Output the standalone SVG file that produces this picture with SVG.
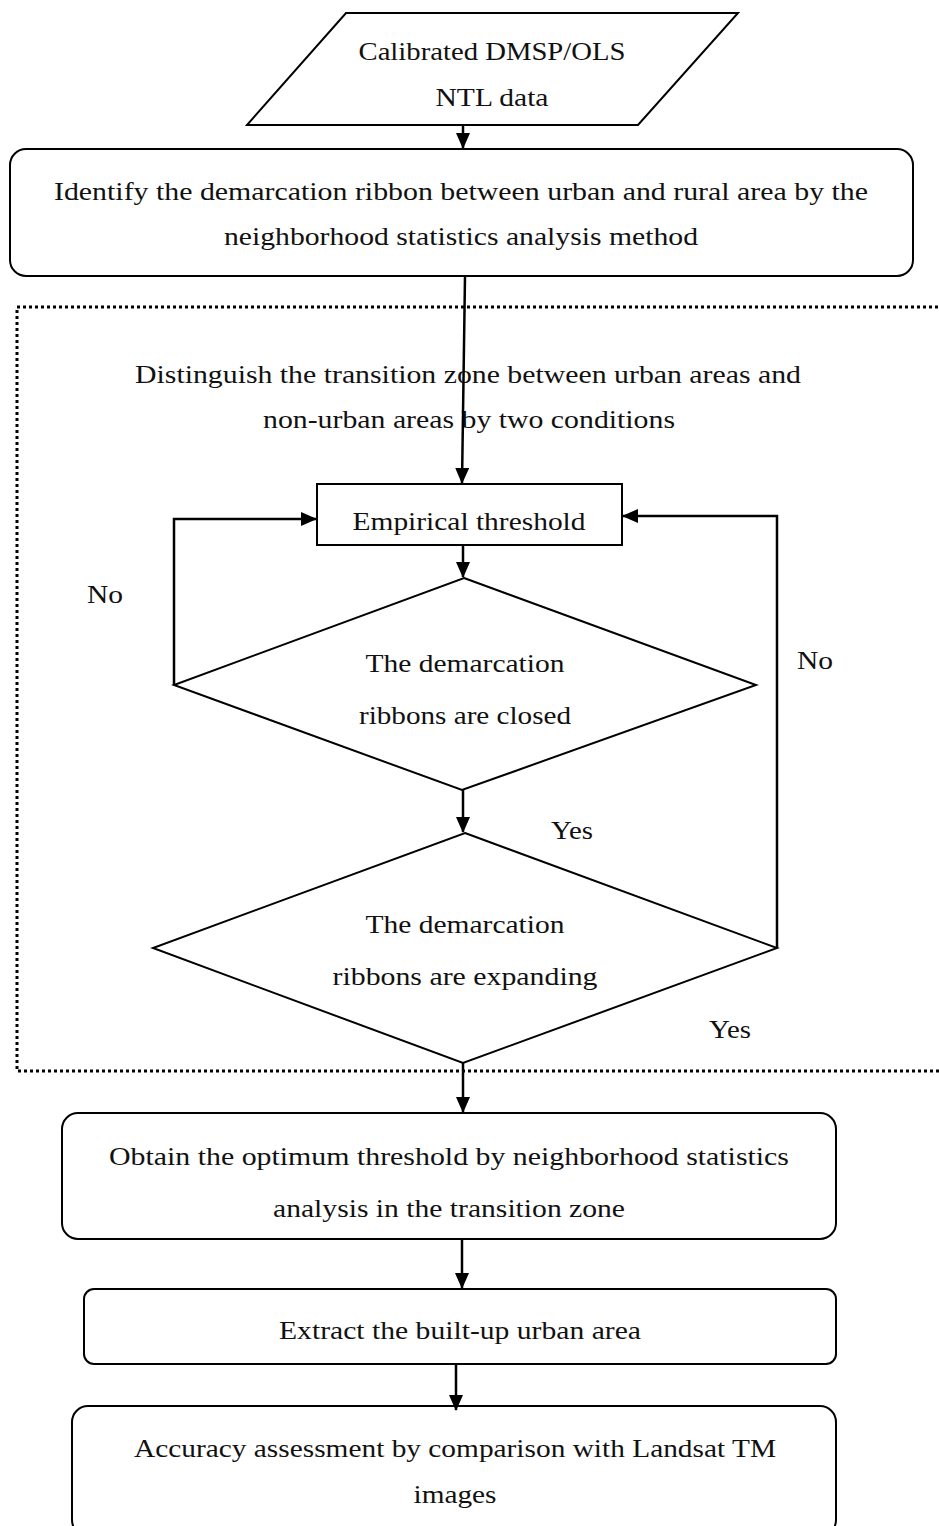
<svg xmlns="http://www.w3.org/2000/svg" width="939" height="1526" viewBox="0 0 939 1526">
<style>
.s{fill:#fff;stroke:#000;stroke-width:2}
.t{font-family:"Liberation Serif","DejaVu Serif",serif;font-size:26px;fill:#111;text-anchor:middle}
.c{fill:none;stroke:#000;stroke-width:2.5}
.d{fill:none;stroke:#000;stroke-width:3;stroke-dasharray:3 3}
</style>
<defs>
<marker id="b" markerWidth="16" markerHeight="14" refX="15" refY="7" orient="auto" markerUnits="userSpaceOnUse" viewBox="0 0 16 14">
<path d="M0,0 L16,7 L0,14 z" fill="#000"/>
</marker>
</defs>
<rect class="d" x="17" y="307" width="940" height="764"/>
<g id="n1">
<polygon class="s" points="346,13 738,13 638,125 247,125"/>
<text class="t" x="492" y="60" textLength="267" lengthAdjust="spacingAndGlyphs">Calibrated DMSP/OLS</text>
<text class="t" x="492" y="106" textLength="113" lengthAdjust="spacingAndGlyphs">NTL data</text>
</g>
<g id="n2">
<rect class="s" x="10" y="149" width="903" height="127" rx="16"/>
<text class="t" x="461" y="200" textLength="814" lengthAdjust="spacingAndGlyphs">Identify the demarcation ribbon between urban and rural area by the</text>
<text class="t" x="461" y="245" textLength="474" lengthAdjust="spacingAndGlyphs">neighborhood statistics analysis method</text>
</g>
<g id="n3">
<text class="t" x="468" y="383" textLength="666" lengthAdjust="spacingAndGlyphs">Distinguish the transition zone between urban areas and</text>
<text class="t" x="469" y="428" textLength="412" lengthAdjust="spacingAndGlyphs">non-urban areas by two conditions</text>
</g>
<g id="n4">
<rect class="s" x="317" y="484" width="305" height="61"/>
<text class="t" x="469" y="530" textLength="233" lengthAdjust="spacingAndGlyphs">Empirical threshold</text>
</g>
<g id="n5">
<polygon class="s" points="464,578 756,685 462,790 174,685"/>
<text class="t" x="465" y="672" textLength="199" lengthAdjust="spacingAndGlyphs">The demarcation</text>
<text class="t" x="465" y="724" textLength="212" lengthAdjust="spacingAndGlyphs">ribbons are closed</text>
</g>
<g id="n6">
<polygon class="s" points="465,833 777,948 463,1063 153,948"/>
<text class="t" x="465" y="933" textLength="199" lengthAdjust="spacingAndGlyphs">The demarcation</text>
<text class="t" x="465" y="985" textLength="265" lengthAdjust="spacingAndGlyphs">ribbons are expanding</text>
</g>
<g id="n7">
<rect class="s" x="62" y="1113" width="774" height="126" rx="16"/>
<text class="t" x="449" y="1165" textLength="680" lengthAdjust="spacingAndGlyphs">Obtain the optimum threshold by neighborhood statistics</text>
<text class="t" x="449" y="1217" textLength="352" lengthAdjust="spacingAndGlyphs">analysis in the transition zone</text>
</g>
<g id="n8">
<rect class="s" x="84" y="1289" width="752" height="75" rx="10"/>
<text class="t" x="460" y="1339" textLength="362" lengthAdjust="spacingAndGlyphs">Extract the built-up urban area</text>
</g>
<g id="n9">
<rect class="s" x="72" y="1406" width="764" height="130" rx="16"/>
<text class="t" x="455" y="1457" textLength="642" lengthAdjust="spacingAndGlyphs">Accuracy assessment by comparison with Landsat TM</text>
<text class="t" x="455" y="1503" textLength="83" lengthAdjust="spacingAndGlyphs">images</text>
</g>
<g id="labels">
<text class="t" x="105" y="603" textLength="36" lengthAdjust="spacingAndGlyphs">No</text>
<text class="t" x="815" y="669" textLength="36" lengthAdjust="spacingAndGlyphs">No</text>
<text class="t" x="572" y="839" textLength="42" lengthAdjust="spacingAndGlyphs">Yes</text>
<text class="t" x="730" y="1038" textLength="42" lengthAdjust="spacingAndGlyphs">Yes</text>
</g>
<g id="connectors">
<line class="c" x1="463" y1="125" x2="463" y2="148" marker-end="url(#b)"/>
<line class="c" x1="465" y1="276" x2="462" y2="483" marker-end="url(#b)"/>
<line class="c" x1="463" y1="545" x2="463" y2="577" marker-end="url(#b)"/>
<polyline class="c" points="174,685 174,519 316,519" marker-end="url(#b)"/>
<polyline class="c" points="777,948 777,516 623,516" marker-end="url(#b)"/>
<line class="c" x1="463" y1="790" x2="463" y2="832" marker-end="url(#b)"/>
<line class="c" x1="463" y1="1063" x2="463" y2="1112" marker-end="url(#b)"/>
<line class="c" x1="462" y1="1239" x2="462" y2="1288" marker-end="url(#b)"/>
<line class="c" x1="456" y1="1364" x2="456" y2="1410" marker-end="url(#b)"/>
</g>
</svg>
